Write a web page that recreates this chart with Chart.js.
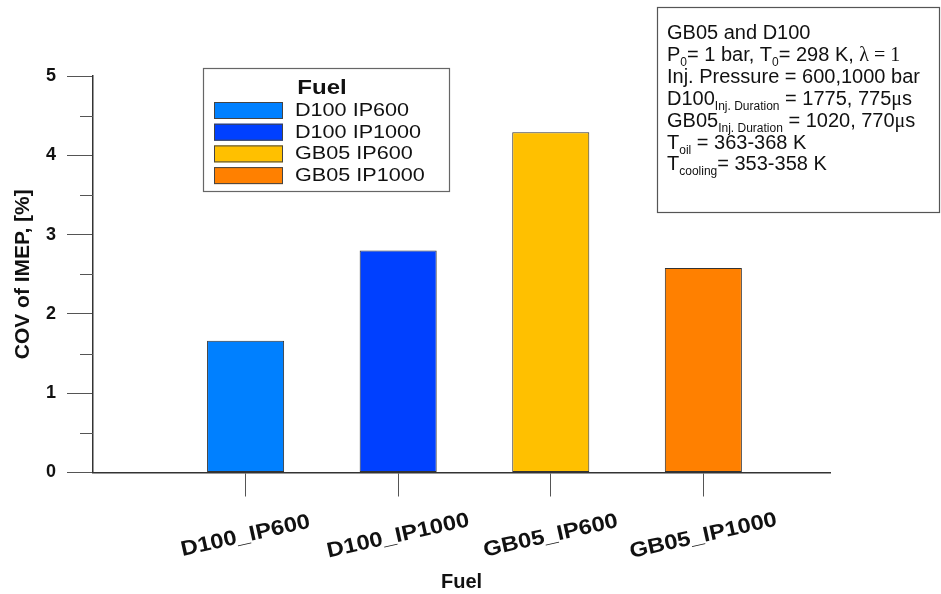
<!DOCTYPE html>
<html>
<head>
<meta charset="utf-8">
<script src="https://cdn.jsdelivr.net/npm/chart.js@4"></script>
<style>
  html, body { margin: 0; padding: 0; background: #fff; }
  #wrap { width: 941px; height: 594px; }
</style>
</head>
<body>
<div id="wrap"><canvas id="covChart"></canvas></div>
<script>
// fuel / injection pressure cases
const categories = ['D100_IP600', 'D100_IP1000', 'GB05_IP600', 'GB05_IP1000'];
const legendLabels = ['D100 IP600', 'D100 IP1000', 'GB05 IP600', 'GB05 IP1000'];
const covImep = [1.66, 2.80, 4.29, 2.58];
const yTicks = [0, 1, 2, 3, 4, 5];
const barColors = ['#0080FF', '#0040FF', '#FFC000', '#FF8000'];

// operating conditions box, one entry per line
const noteLines = [
    [{ t: 'GB05 and D100' }],
    [{ t: 'P' }, { t: '0', sub: true }, { t: '= 1 bar, T' }, { t: '0', sub: true }, { t: '= 298 K, ' }, { t: '\u03BB = 1', serif: true }],
    [{ t: 'Inj. Pressure = 600,1000 bar' }],
    [{ t: 'D100' }, { t: 'Inj. Duration', sub: true }, { t: ' = 1775, 775' }, { t: '\u03BC', serif: true }, { t: 's' }],
    [{ t: 'GB05' }, { t: 'Inj. Duration', sub: true }, { t: ' = 1020, 770' }, { t: '\u03BC', serif: true }, { t: 's' }],
    [{ t: 'T' }, { t: 'oil', sub: true }, { t: ' = 363-368 K' }],
    [{ t: 'T' }, { t: 'cooling', sub: true }, { t: '= 353-358 K' }]
];

const SANS = '"Liberation Sans", Arial, sans-serif';
const SERIF = '"Liberation Serif", "Times New Roman", serif';

function drawRich(ctx, x, y, parts, size) {
    let cx = x;
    parts.forEach(function (p) {
        const fs = p.sub ? Math.round(size * 0.6) : size;
        ctx.font = fs + 'px ' + (p.serif ? SERIF : SANS);
        ctx.fillText(p.t, cx, p.sub ? y + 5 : y);
        cx += ctx.measureText(p.t).width;
    });
}

// text drawn a little wider than the font
function wideText(ctx, text, x, y, sx, angle) {
    ctx.save();
    ctx.translate(x, y);
    if (angle) ctx.rotate(angle);
    ctx.scale(sx, 1);
    ctx.fillText(text, 0, 0);
    ctx.restore();
}

const extras = {
    id: 'extras',
    beforeDraw(chart) {
        const ctx = chart.ctx;
        ctx.save();
        ctx.fillStyle = '#fff';
        ctx.fillRect(0, 0, chart.width, chart.height);
        ctx.restore();
    },
    afterDraw(chart) {
        const ctx = chart.ctx;
        const xs = chart.scales.x;
        const ys = chart.scales.y;
        ctx.save();

        // minor ticks halfway between the major y ticks
        ctx.strokeStyle = '#555';
        ctx.lineWidth = 1;
        const left = chart.chartArea.left;
        for (let i = 0; i < ys.ticks.length - 1; i++) {
            const mid = (ys.ticks[i].value + ys.ticks[i + 1].value) / 2;
            const py = Math.round(ys.getPixelForValue(mid)) + 0.5;
            ctx.beginPath();
            ctx.moveTo(left - 13, py);
            ctx.lineTo(left, py);
            ctx.stroke();
        }

        // slanted category labels under the x ticks
        ctx.fillStyle = '#111';
        ctx.font = 'bold 21px ' + SANS;
        ctx.textAlign = 'center';
        ctx.textBaseline = 'middle';
        categories.forEach(function (c, i) {
            wideText(ctx, c, xs.getPixelForValue(i + 1), 536, 1.13, -0.22);
        });

        // legend box
        ctx.strokeStyle = '#666';
        ctx.lineWidth = 1.2;
        ctx.strokeRect(203.5, 68.5, 246, 123);
        ctx.font = 'bold 20px ' + SANS;
        wideText(ctx, 'Fuel', 322, 88, 1.2);
        ctx.textAlign = 'left';
        ctx.font = '18px ' + SANS;
        ctx.lineWidth = 1;
        legendLabels.forEach(function (lab, i) {
            const top = 102 + i * 21.7;
            ctx.fillStyle = barColors[i];
            ctx.fillRect(214, top, 69, 17);
            ctx.strokeStyle = '#444';
            ctx.strokeRect(214.5, top + 0.5, 68, 16);
            ctx.fillStyle = '#111';
            wideText(ctx, lab, 295, top + 9, 1.2);
        });

        // operating conditions box
        ctx.strokeStyle = '#555';
        ctx.lineWidth = 1.2;
        ctx.strokeRect(657.5, 7.5, 282, 205);
        ctx.fillStyle = '#111';
        ctx.textBaseline = 'alphabetic';
        noteLines.forEach(function (line, i) {
            drawRich(ctx, 667, 39 + i * 21.9, line, 20);
        });

        ctx.restore();
    }
};

const ctx = document.getElementById('covChart').getContext('2d');

const config = {
    type: 'bar',
    data: {
        datasets: [{
            label: 'COV of IMEP',
            data: categories.map(function (c, i) { return { x: i + 1, y: covImep[i] }; }),
            backgroundColor: barColors,
            borderColor: '#333',
            borderWidth: 1,
            borderSkipped: false,
            barPercentage: 0.505,
            categoryPercentage: 1.0
        }]
    },
    options: {
        responsive: true,
        maintainAspectRatio: false,
        animation: false,
        layout: { padding: { left: 0, top: 76, right: 111, bottom: 0 } },
        plugins: {
            legend: { display: false },
            tooltip: { enabled: false }
        },
        scales: {
            x: {
                type: 'linear',
                min: 0,
                max: 4.83,
                offset: false,
                afterBuildTicks: function (scale) {
                    scale.ticks = categories.map(function (c, i) { return { value: i + 1 }; });
                },
                afterFit: function (scale) { scale.height = 121.5; },
                ticks: { display: false },
                grid: { offset: false, drawOnChartArea: false, tickLength: 24, color: '#555', lineWidth: 1 },
                border: { color: '#333', width: 1.5 },
                title: {
                    display: true,
                    text: 'Fuel',
                    color: '#111',
                    font: { family: SANS, size: 20, weight: 'bold' },
                    padding: { top: 0, bottom: 0 }
                }
            },
            y: {
                min: 0,
                max: 5,
                afterBuildTicks: function (scale) {
                    scale.ticks = yTicks.map(function (v) { return { value: v }; });
                },
                afterFit: function (scale) { scale.width = 93; },
                ticks: {
                    color: '#111',
                    padding: 11,
                    font: { family: SANS, size: 18, weight: 'bold' }
                },
                grid: { drawOnChartArea: false, tickLength: 26, color: '#555', lineWidth: 1 },
                border: { color: '#333', width: 1.5 },
                title: {
                    display: true,
                    text: 'COV of IMEP, [%]',
                    color: '#111',
                    font: { family: SANS, size: 21, weight: 'bold' },
                    padding: { top: 11, bottom: 0 }
                }
            }
        }
    },
    plugins: [extras]
};

const covChart = new Chart(ctx, config);
</script>
</body>
</html>
